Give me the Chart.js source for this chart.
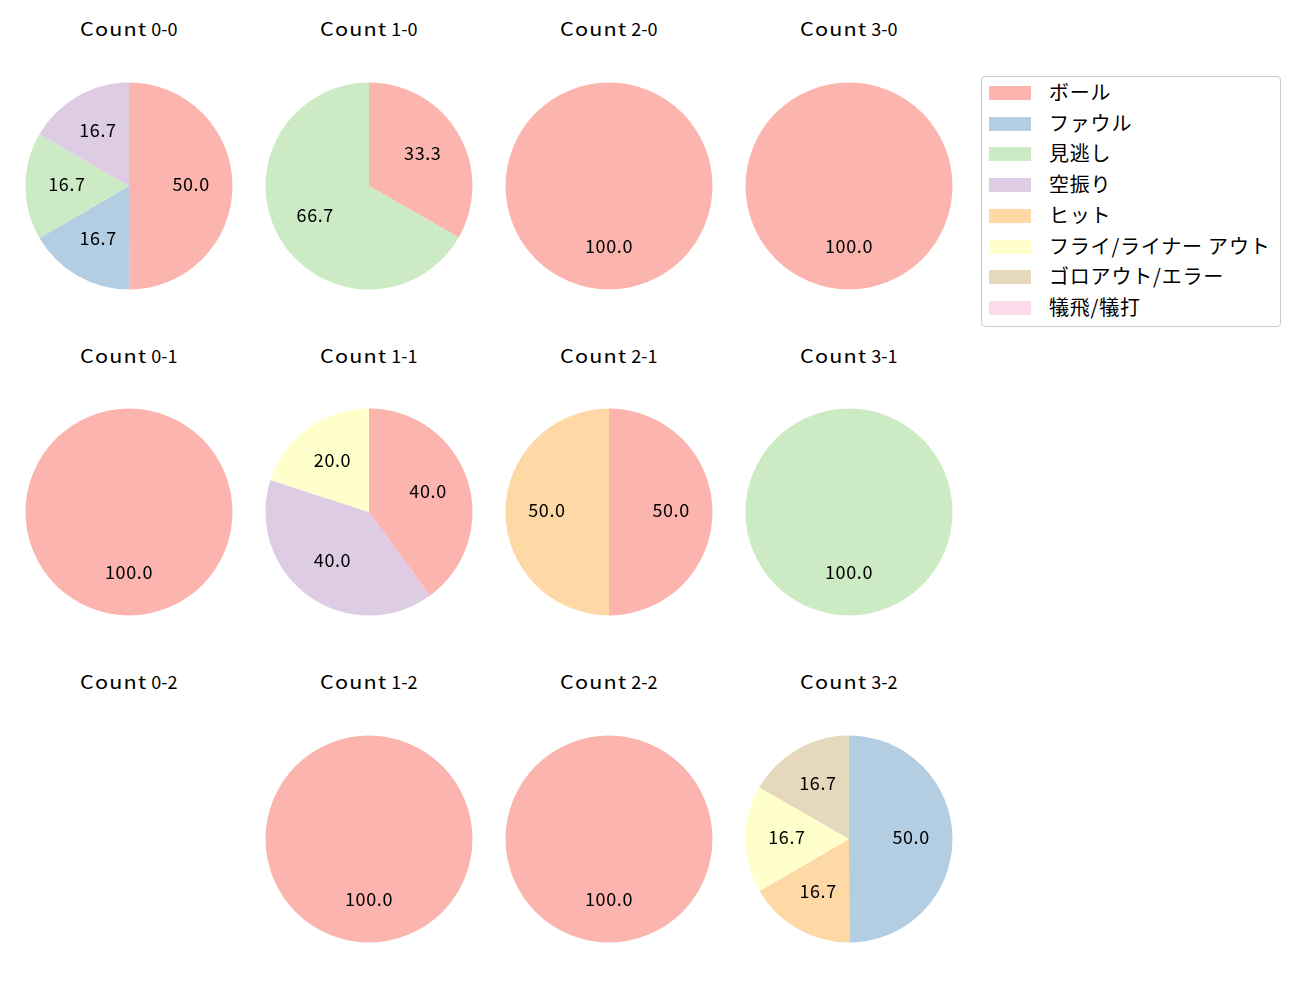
<!DOCTYPE html>
<html><head><meta charset="utf-8">
<script src="https://cdn.jsdelivr.net/npm/chart.js@4"></script>
<style>
html,body{margin:0;padding:0;background:#fff;}
body{width:1300px;height:1000px;position:relative;overflow:hidden;font-family:"Noto Sans CJK JP","Noto Sans",sans-serif;}
.t{position:absolute;font-size:18px;color:#000;line-height:1;white-space:nowrap;}
.t .w{display:inline-block;letter-spacing:1px;transform:scaleX(1.2);transform-origin:0 50%;}
.pc{position:absolute;width:240px;height:240px;}
#legend{position:absolute;left:981px;top:76px;width:298px;height:249px;border:1px solid #cccccc;border-radius:4px;background:#fff;}
.li{position:absolute;left:7px;height:20px;font-size:20px;line-height:20px;white-space:nowrap;letter-spacing:0.8px;}
.sw{position:absolute;left:0;top:3px;width:42px;height:14px;}
.lt{position:absolute;left:60px;top:-1px;}
</style></head><body>
<div id="legend"></div>
<script>
const categories = ["ボール","ファウル","見逃し","空振り","ヒット","フライ/ライナー アウト","ゴロアウト/エラー","犠飛/犠打"];
const colors = ["#fbb4ae","#b3cde3","#ccebc5","#decbe4","#fed9a6","#ffffcc","#e5d8bd","#fddaec"];
const countTitles = ["0-0","1-0","2-0","3-0","0-1","1-1","2-1","3-1","0-2","1-2","2-2","3-2"];
// percentages per category, in category order
const count00 = [50.0,16.7,16.7,16.7,0,0,0,0];
const count10 = [33.3,0,66.7,0,0,0,0,0];
const count20 = [100,0,0,0,0,0,0,0];
const count30 = [100,0,0,0,0,0,0,0];
const count01 = [100,0,0,0,0,0,0,0];
const count11 = [40.0,0,0,40.0,0,20.0,0,0];
const count21 = [50.0,0,0,0,50.0,0,0,0];
const count31 = [0,0,100,0,0,0,0,0];
const count02 = [0,0,0,0,0,0,0,0];
const count12 = [100,0,0,0,0,0,0,0];
const count22 = [100,0,0,0,0,0,0,0];
const count32 = [0,50.0,0,0,16.7,16.7,16.7,0];
const allCounts = [count00,count10,count20,count30,count01,count11,count21,count31,count02,count12,count22,count32];

const centersX = [129,369,609,849];
const centersY = [186,512,839];
const titleY = [19,346,672];

const FONT = '"Noto Sans CJK JP","Noto Sans",sans-serif';

const pieLabels = {
  id:'pieLabels',
  afterDatasetsDraw(chart){
    const ctx = chart.ctx;
    const meta = chart.getDatasetMeta(0);
    const data = chart.data.datasets[0].data;
    ctx.save();
    ctx.font = '18px ' + FONT;
    if ('letterSpacing' in ctx) ctx.letterSpacing = '0.6px';
    ctx.fillStyle = '#000';
    ctx.textAlign = 'center';
    ctx.textBaseline = 'middle';
    meta.data.forEach((arc,i)=>{
      if(!data[i]) return;
      const p = arc.getProps(['x','y','startAngle','endAngle','outerRadius'],true);
      const mid = (p.startAngle+p.endAngle)/2;
      const r = p.outerRadius*0.6;
      ctx.fillText(data[i].toFixed(1), p.x+Math.cos(mid)*r, p.y+Math.sin(mid)*r-2);
    });
    ctx.restore();
  }
};

allCounts.forEach((vals,k)=>{
  const col = k%4, row = Math.floor(k/4);
  const cx = centersX[col], cy = centersY[row];
  const t = document.createElement('div');
  t.className='t';
  const w = document.createElement('span'); w.className='w'; w.textContent='Count';
  t.appendChild(w); t.appendChild(document.createTextNode(' '+countTitles[k]));
  document.body.appendChild(t);
  const natW = w.offsetWidth;
  w.style.marginRight = (natW*0.2)+'px';
  t.style.left=(cx - t.offsetWidth/2)+'px'; t.style.top=titleY[row]+'px';
  const d = document.createElement('div');
  d.className='pc'; d.style.left=(cx-120)+'px'; d.style.top=(cy-120)+'px';
  const c = document.createElement('canvas');
  d.appendChild(c); document.body.appendChild(d);
  if(vals.every(v=>v===0)) return;
  new Chart(c,{
    type:'pie',
    data:{labels:categories,datasets:[{data:vals,backgroundColor:colors,borderWidth:0}]},
    options:{responsive:true,maintainAspectRatio:false,animation:false,
      layout:{padding:16.5},
      plugins:{legend:{display:false},tooltip:{enabled:false},title:{display:false}}},
    plugins:[pieLabels]
  });
});

const lg = document.getElementById('legend');
categories.forEach((name,i)=>{
  const it = document.createElement('div');
  it.className='li'; it.style.top=(6+i*30.7)+'px';
  it.innerHTML='<div class="sw" style="background:'+colors[i]+'"></div><span class="lt"></span>';
  it.querySelector('.lt').textContent=name;
  lg.appendChild(it);
});
</script>
</body></html>
